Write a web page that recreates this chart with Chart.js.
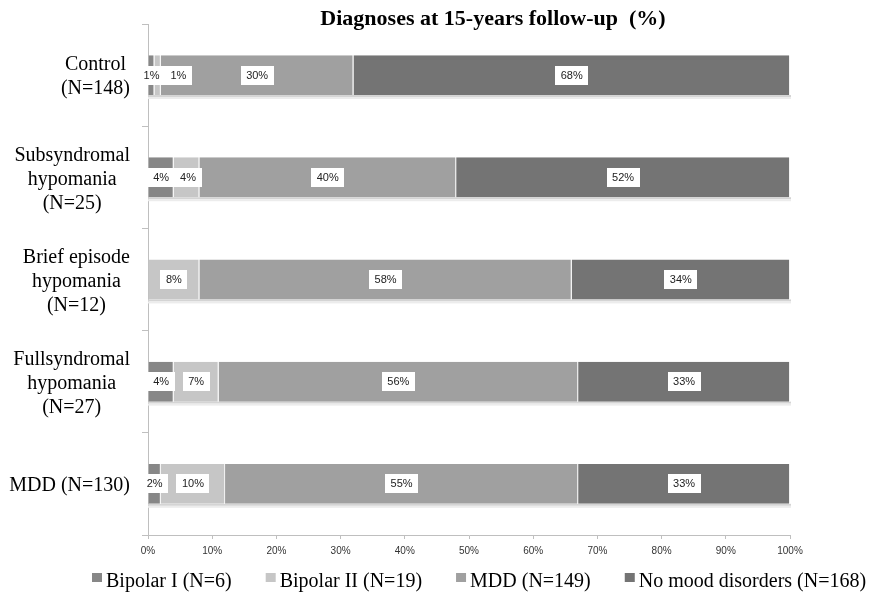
<!DOCTYPE html>
<html>
<head>
<meta charset="utf-8">
<script src="https://cdn.jsdelivr.net/npm/chart.js@4/dist/chart.umd.min.js"></script>
<style>
  html, body { margin: 0; padding: 0; background: #ffffff; }
  #wrap { width: 871px; height: 592px; position: relative; }
</style>
</head>
<body>
<div id="wrap"><canvas id="c" width="871" height="592"></canvas></div>
<script>
const titleText = "Diagnoses at 15-years follow-up  (%)";
const categories = [
  ["Control", "(N=148)"],
  ["Subsyndromal", "hypomania", "(N=25)"],
  ["Brief episode", "hypomania", "(N=12)"],
  ["Fullsyndromal", "hypomania", "(N=27)"],
  ["MDD (N=130)"]
];
const seriesNames = ["Bipolar I (N=6)", "Bipolar II (N=19)", "MDD (N=149)", "No mood disorders (N=168)"];
const bipolarI  = [1, 4, 0, 4, 2];
const bipolarII = [1, 4, 8, 7, 10];
const mdd       = [30, 40, 58, 56, 55];
const noMood    = [68, 52, 34, 33, 33];
const xTicks    = [0, 10, 20, 30, 40, 50, 60, 70, 80, 90, 100];

const colors = ["#878787", "#c6c6c6", "#a0a0a0", "#747474"];
const seriesValues = [bipolarI, bipolarII, mdd, noMood];

const serif = "'Liberation Serif', 'Times New Roman', serif";
const sans = "'Liberation Sans', Arial, sans-serif";

const titlePlugin = {
  id: 'customTitle',
  afterDraw(chart) {
    const ctx = chart.ctx;
    ctx.save();
    ctx.font = "bold 22px " + serif;
    ctx.fillStyle = "#000";
    ctx.textAlign = "center";
    ctx.textBaseline = "middle";
    ctx.fillText(titleText, 493, 19);
    ctx.restore();
  }
};

// Category labels: each block right-aligned to the axis, lines centred within the block
const catLabelPlugin = {
  id: 'catLabels',
  afterDraw(chart) {
    const ctx = chart.ctx;
    const yScale = chart.scales.y;
    ctx.save();
    ctx.font = "20px " + serif;
    ctx.fillStyle = "#000";
    ctx.textAlign = "center";
    ctx.textBaseline = "middle";
    const lh = 24;
    const rightEdge = 130;
    categories.forEach((lines, i) => {
      const cy = yScale.getPixelForTick(i) + 2;
      const widest = Math.max(...lines.map(t => ctx.measureText(t).width));
      const cx = rightEdge - widest / 2;
      const top = cy - (lines.length - 1) * lh / 2;
      lines.forEach((t, j) => ctx.fillText(t, cx, top + j * lh));
    });
    ctx.restore();
  }
};

const shadowPlugin = {
  id: 'barShadow',
  beforeDatasetsDraw(chart) {
    const ctx = chart.ctx;
    const meta0 = chart.getDatasetMeta(0);
    const area = chart.chartArea;
    ctx.save();
    meta0.data.forEach((el) => {
      const bottom = el.y + el.height / 2;
      ctx.fillStyle = "#d4d4d4";
      ctx.fillRect(area.left, bottom, area.right - area.left + 1, 2);
      ctx.fillStyle = "#ececec";
      ctx.fillRect(area.left, bottom + 2, area.right - area.left + 1, 2);
    });
    ctx.restore();
  }
};

const labelPlugin = {
  id: 'valueLabels',
  afterDatasetsDraw(chart) {
    const ctx = chart.ctx;
    ctx.save();
    ctx.font = "11px " + sans;
    ctx.textAlign = "center";
    ctx.textBaseline = "middle";
    const nCat = categories.length;
    for (let i = 0; i < nCat; i++) {
      let prevRight = -Infinity;
      chart.data.datasets.forEach((ds, d) => {
        const v = ds.data[i];
        if (!v) return;
        const el = chart.getDatasetMeta(d).data[i];
        const cx = (el.x + el.base) / 2;
        const text = v + "%";
        const tw = ctx.measureText(text).width;
        const bw = tw + 11, bh = 19;
        let left = cx - bw / 2;
        if (left < prevRight) left = prevRight;
        prevRight = left + bw;
        ctx.fillStyle = "#ffffff";
        ctx.fillRect(Math.round(left), Math.round(el.y - bh / 2), Math.round(bw), bh);
        ctx.fillStyle = "#222222";
        ctx.fillText(text, left + bw / 2, el.y + 0.5);
      });
    }
    ctx.restore();
  }
};

const legendPlugin = {
  id: 'customLegend',
  afterDraw(chart) {
    const ctx = chart.ctx;
    ctx.save();
    ctx.font = "20px " + serif;
    ctx.textBaseline = "alphabetic";
    ctx.textAlign = "left";
    let x = 92;
    chart.data.datasets.forEach((ds) => {
      ctx.fillStyle = ds.backgroundColor;
      ctx.fillRect(x, 573, 10, 9);
      x += 14;
      ctx.fillStyle = "#000";
      ctx.fillText(ds.label, x, 587);
      x += ctx.measureText(ds.label).width + 34;
    });
    ctx.restore();
  }
};

new Chart(document.getElementById('c'), {
  type: 'bar',
  data: {
    labels: categories,
    datasets: seriesValues.map((vals, k) => ({
      label: seriesNames[k],
      data: vals,
      backgroundColor: colors[k],
      borderColor: "#f2f2f2",
      borderWidth: {left: 0, right: 1, top: 0, bottom: 0},
      borderSkipped: false,
      barPercentage: 0.39,
      categoryPercentage: 1.0
    }))
  },
  options: {
    indexAxis: 'y',
    responsive: false,
    animation: false,
    devicePixelRatio: 1,
    layout: { padding: { top: 24, right: 81, bottom: 33, left: 0 } },
    plugins: {
      legend: { display: false },
      title: { display: false },
      tooltip: { enabled: false }
    },
    scales: {
      x: {
        stacked: true,
        min: 0,
        max: 100,
        afterBuildTicks(scale) { scale.ticks = xTicks.map(v => ({ value: v })); },
        afterFit(scale) { scale.height = 24; },
        grid: { drawOnChartArea: false, tickLength: 4, color: "#bfbfbf" },
        border: { color: "#bfbfbf" },
        ticks: {
          padding: 6,
          color: "#333333",
          font: { family: sans, size: 10 },
          callback: (v) => v + "%"
        }
      },
      y: {
        stacked: true,
        afterFit(scale) { scale.width = 148; },
        grid: { drawOnChartArea: false, tickLength: 6, color: "#bfbfbf", offset: true },
        border: { color: "#bfbfbf" },
        ticks: {
          display: false
        }
      }
    }
  },
  plugins: [shadowPlugin, labelPlugin, catLabelPlugin, titlePlugin, legendPlugin]
});
</script>
</body>
</html>
